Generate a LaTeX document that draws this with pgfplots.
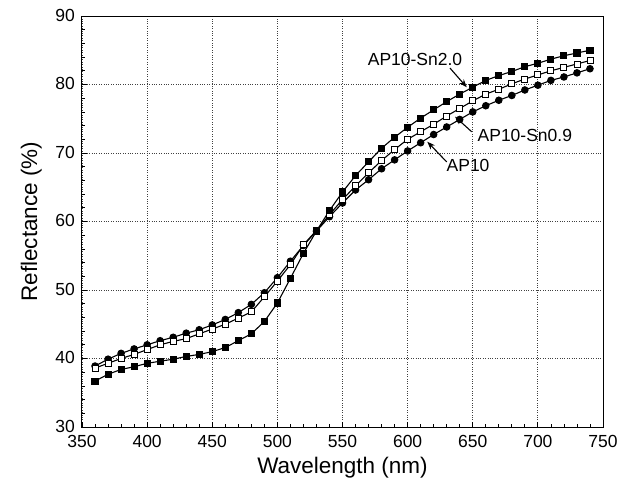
\documentclass[border=0pt]{standalone}
\usepackage{pgfplots}
\pgfplotsset{compat=1.18}
\usepackage{pgfplotstable}
\usepackage{fontspec}
\setmainfont{Liberation Sans}
\usetikzlibrary{arrows.meta}

\pgfplotstableread{
x y
360 38.9
370 39.9
380 40.75
390 41.4
400 42.0
410 42.6
420 43.1
430 43.7
440 44.2
450 44.9
460 45.7
470 46.7
480 47.9
490 49.6
500 51.8
510 54.2
520 56.5
530 58.6
540 60.7
550 62.7
560 64.6
570 66.1
580 67.7
590 69.0
600 70.3
610 71.5
620 72.7
630 73.8
640 74.9
650 76.0
660 76.9
670 77.7
680 78.4
690 79.2
700 79.9
710 80.6
720 81.1
730 81.7
740 82.3
}\apten

\pgfplotstableread{
x y
360 38.6
370 39.3
380 40.0
390 40.6
400 41.3
410 42.0
420 42.5
430 42.9
440 43.6
450 44.3
460 45.0
470 45.9
480 46.8
490 49.0
500 51.3
510 53.7
520 56.6
530 58.7
540 61.0
550 63.2
560 65.2
570 67.1
580 68.9
590 70.5
600 72.0
610 73.1
620 74.2
630 75.4
640 76.5
650 77.6
660 78.6
670 79.3
680 80.1
690 80.8
700 81.4
710 82.0
720 82.5
730 83.0
740 83.5
}\snnine

\pgfplotstableread{
x y
360 36.7
370 37.7
380 38.4
390 38.8
400 39.3
410 39.6
420 39.9
430 40.3
440 40.6
450 41.0
460 41.6
470 42.6
480 43.6
490 45.4
500 48.1
510 51.7
520 55.35
530 58.6
540 61.6
550 64.3
560 66.7
570 68.7
580 70.7
590 72.3
600 73.75
610 75.1
620 76.3
630 77.5
640 78.6
650 79.6
660 80.6
670 81.3
680 81.9
690 82.6
700 83.1
710 83.7
720 84.2
730 84.6
740 85.0
}\sntwo

\begin{document}
\begin{tikzpicture}
\useasboundingbox (-82pt,-56pt) rectangle (546pt,427pt);
\begin{axis}[
  scale only axis,
  width=521pt, height=411pt,
  xmin=350, xmax=750, ymin=30, ymax=90,
  xtick={350,400,...,750},
  ytick={30,40,...,90},
  minor x tick num=4,
  minor y tick num=4,
  tick align=inside,
  xtick pos=bottom, ytick pos=left,
  major tick length=5pt, minor tick length=3pt,
  tick style={black, line width=0.8pt},
  grid=major,
  major grid style={dotted, line width=0.9pt, black!75},
  axis line style={line width=1pt},
  ticklabel style={font=\fontsize{17.5}{20}\selectfont, inner sep=1pt},
  /pgf/number format/assume math mode=true,
  xticklabel style={yshift=-7.5pt},
  yticklabel style={xshift=-6pt, yshift=1pt},
  xlabel={Wavelength (nm)},
  ylabel={Reflectance (\%)},
  label style={font=\fontsize{22.5}{26}\selectfont},
  xlabel style={yshift=-5pt},
  ylabel style={yshift=9pt},
  every axis plot/.append style={line width=1.1pt, black},
]
\addplot[mark=*, mark size=3.2pt, mark options={solid, fill=black}] table[x=x,y=y] {\apten};
\addplot[mark=square*, mark size=3pt, mark options={solid, fill=white, line width=0.9pt}] table[x=x,y=y] {\snnine};
\addplot[mark=square*, mark size=3pt, mark options={solid, fill=black}] table[x=x,y=y] {\sntwo};

\node[font=\fontsize{17.5}{20}\selectfont] at (axis cs:605.7,83.6) {AP10-Sn2.0};
\draw[-{Stealth[length=8pt,width=6pt]}, line width=1.1pt] (axis cs:632.5,82.4) -- (axis cs:645.4,79.6);
\node[font=\fontsize{17.5}{20}\selectfont] at (axis cs:690,72.6) {AP10-Sn0.9};
\draw[-{Stealth[length=8pt,width=6pt]}, line width=1.1pt] (axis cs:649.2,73.1) -- (axis cs:636.4,75.3);
\node[font=\fontsize{17.5}{20}\selectfont] at (axis cs:646.4,68.25) {AP10};
\draw[-{Stealth[length=8pt,width=6pt]}, line width=1.1pt] (axis cs:630,68.7) -- (axis cs:615.1,71.65);
\end{axis}
\end{tikzpicture}
\end{document}
